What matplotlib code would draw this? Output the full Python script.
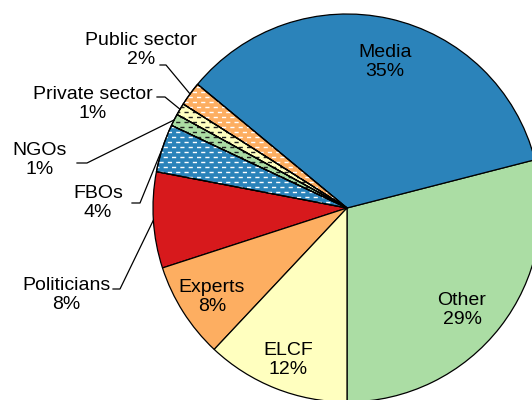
import numpy as np
import matplotlib.pyplot as plt
from matplotlib.patches import Wedge

plt.rcParams['font.family'] = ['Liberation Sans', 'DejaVu Sans']

# slices, counter-clockwise starting from straight down
labels = ['Other', 'Media', 'Public sector', 'Private sector', 'NGOs',
          'FBOs', 'Politicians', 'Experts', 'ELCF']
shares = [29, 35, 2, 1, 1, 4, 8, 8, 12]
colors = ['#abdda4', '#2b83ba', '#fdae61', '#ffffbf', '#abdda4',
          '#2b83ba', '#d7191c', '#fdae61', '#ffffbf']
# small slices get dashed fill: dash colour
dash_color = {'Public sector': 'white', 'Private sector': '#222222',
              'NGOs': '#222222', 'FBOs': 'white'}

W, H = 532, 400
cx, cy, R = 347, 208, 194   # pie centre / radius in pixels


def px(x, y):
    # pixel (from top-left) -> data coords, radius = 1
    return (x - cx) / R, (cy - y) / R


fig = plt.figure(figsize=(W / 100, H / 100), dpi=100)
ax = fig.add_axes([0, 0, 1, 1])

wedges, _ = ax.pie(shares, colors=colors, startangle=270, counterclock=True,
                   radius=1, wedgeprops=dict(edgecolor='black', linewidth=0.9))

# pie() resets the limits, so set them afterwards
ax.set_xlim(-cx / R, (W - cx) / R)
ax.set_ylim((cy - H) / R, cy / R)
ax.set_aspect('equal')
ax.axis('off')

# dashed hatching, clipped to each wedge
step = 5 / R
rows = np.arange(-1.05, 1.05, step)
for w, lab in zip(wedges, labels):
    if lab not in dash_color:
        continue
    c = dash_color[lab]
    for k, off in ((0, 0), (1, 3)):
        lc = ax.hlines(rows[k::2], -1.1, 1.1, colors=c, linewidth=1.0,
                       linestyles=[(off, (3, 3))], zorder=3)
        lc.set_clip_path(w)
    w.set_zorder(2)
    ax.add_patch(Wedge((0, 0), 1, w.theta1, w.theta2, facecolor='none',
                       edgecolor='black', linewidth=0.9, zorder=4))

pct = {lab: f'{s}%' for lab, s in zip(labels, shares)}

# labels inside the pie
inside = {'Media': (385, 62), 'Other': (462, 310), 'ELCF': (288, 360),
          'Experts': (212, 297)}
for lab, (x, y) in inside.items():
    ax.text(*px(x, y), f'{lab}\n{pct[lab]}', ha='center', va='center',
            fontsize=14, zorder=5)

# labels outside with leader lines: text centre, line start, elbow
outside = {'Public sector': ((141, 50), (160, 65), (166, 65)),
           'Private sector': ((93, 104), (157, 97), (165, 97)),
           'NGOs': ((40, 160), (77, 163), (87, 163)),
           'FBOs': ((98, 203), (132, 203), (140, 203)),
           'Politicians': ((66, 295), (113, 289), (120, 289))}
for w, lab in zip(wedges, labels):
    if lab not in outside:
        continue
    (tx, ty), p0, p1 = outside[lab]
    ax.text(*px(tx, ty), f'{lab}\n{pct[lab]}', ha='center', va='center',
            fontsize=14, zorder=5)
    mid = np.deg2rad((w.theta1 + w.theta2) / 2)
    xs = [px(*p0)[0], px(*p1)[0], np.cos(mid)]
    ys = [px(*p0)[1], px(*p1)[1], np.sin(mid)]
    ax.plot(xs, ys, color='black', linewidth=0.9, zorder=5)

fig.savefig('out.png', dpi=100)
